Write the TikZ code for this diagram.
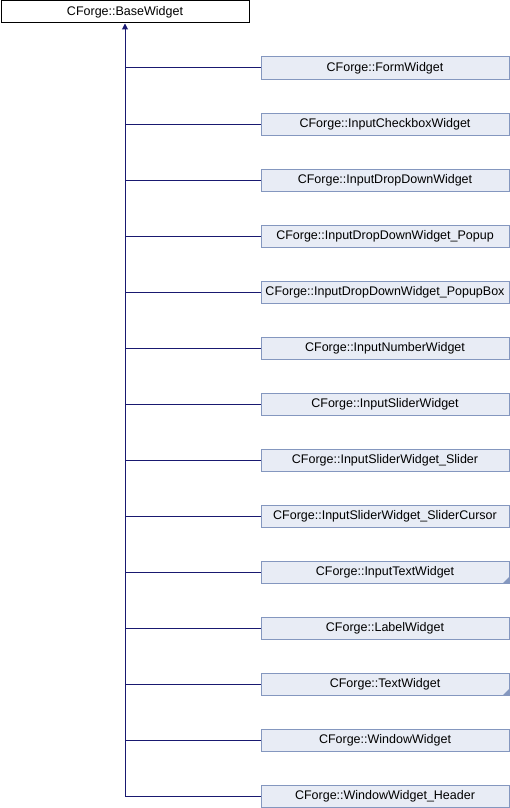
\documentclass[tikz,border=0pt]{standalone}
\usepackage{fontspec}
\setmainfont{Liberation Sans}
\usetikzlibrary{arrows.meta}
\definecolor{boxfill}{HTML}{E8ECF5}
\definecolor{boxedge}{HTML}{8497BF}
\definecolor{linkblue}{HTML}{191970}
\begin{document}
\begin{tikzpicture}[x=1pt,y=-1pt,
  basebox/.style={draw=black,fill=white,line width=1pt,minimum width=248pt,minimum height=22pt,inner sep=0pt,font=\fontsize{12.5}{14}\selectfont},
  childbox/.style={draw=boxedge,fill=boxfill,line width=1pt,minimum width=248pt,minimum height=22pt,inner sep=0pt,font=\fontsize{12.5}{14}\selectfont},
  link/.style={draw=linkblue,line width=1pt},
  corner/.style={fill=boxedge,draw=none}]
\useasboundingbox (0,0) rectangle (510,808);
\node[basebox] (base) at (125,12) {CForge::BaseWidget};
\coordinate (trunk) at (125,796);
\foreach \i/\name in {0/FormWidget,1/InputCheckboxWidget,2/InputDropDownWidget,3/InputDropDownWidget\_Popup,4/InputDropDownWidget\_PopupBox,5/InputNumberWidget,6/InputSliderWidget,7/InputSliderWidget\_Slider,8/InputSliderWidget\_SliderCursor,9/InputTextWidget,10/LabelWidget,11/TextWidget,12/WindowWidget,13/WindowWidget\_Header}{
  \node[childbox] (c\i) at (385,68+56*\i) {CForge::\name};
  \coordinate (j\i) at (125,68+56*\i);
  \draw[link] (j\i) -- (c\i.west);
}
\draw[link,-{Triangle[length=6pt,width=6pt]}] (trunk) -- (base.south);
\fill[corner] (c9.south east) -- ++(0,-7) -- ++(-7,7) -- cycle;
\fill[corner] (c11.south east) -- ++(0,-7) -- ++(-7,7) -- cycle;
\end{tikzpicture}
\end{document}
